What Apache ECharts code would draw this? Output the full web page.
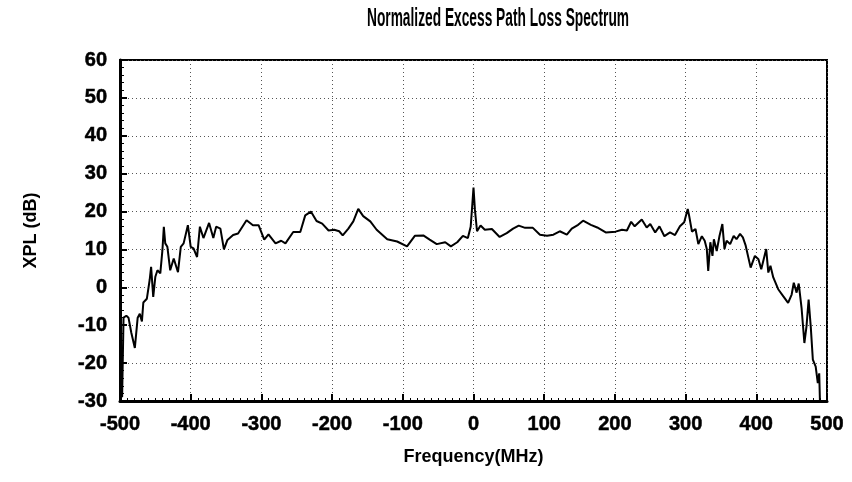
<!DOCTYPE html>
<html>
<head>
<meta charset="utf-8">
<title>Normalized Excess Path Loss Spectrum</title>
<script src="https://cdn.jsdelivr.net/npm/echarts@6/dist/echarts.min.js"></script>
<style>
  html, body { margin: 0; padding: 0; background: #fff; }
  #xplChart { width: 852px; height: 482px; }
</style>
</head>
<body>
<div id="xplChart"></div>
<script>
// values
var freq = [
  -497, -495, -491, -488, -484, -479, -475, -472, -469, -467, -462, -458, -456, -453, -450,
  -447, -443, -440, -438, -436, -433, -429, -424, -418, -414, -410, -404, -400, -396, -391,
  -387, -382, -374, -368, -364, -358, -353, -348, -340, -333, -321, -312, -304, -296, -290,
  -280, -272, -266, -255, -245, -238, -230, -222, -214, -205, -197, -190, -185, -177, -170,
  -163, -156, -146, -137, -122, -108, -94, -83, -71, -62, -52, -40, -32, -23, -15,
  -8, -4, -2, 0, 2, 5, 10, 16, 26, 37, 47, 56, 64, 73, 84,
  94, 104, 113, 122, 132, 139, 148, 155, 166, 175, 187, 201, 210, 217, 223,
  228, 238, 245, 250, 257, 263, 270, 278, 285, 292, 298, 303, 305, 309, 314,
  318, 323, 327, 330, 332, 335, 338, 340, 344, 348, 352, 355, 358, 363, 368,
  372, 377, 381, 385, 392, 398, 403, 407, 414, 417, 420, 424, 431, 438, 445,
  450, 453, 457, 460, 464, 468, 471, 474, 477, 480, 484, 487, 489, 490
]
var xpl = [
  -29, -8, -7.5, -8, -12, -16, -8, -7, -9, -4, -3, 2, 5.4, -2.5, 2.8,
  4.5, 3.7, 9.8, 16, 11.6, 10.7, 4.5, 7.6, 4, 10.7, 11.6, 16.4, 10.7, 10.3, 8,
  16, 13, 17, 13, 16, 15.5, 10, 12.5, 13.8, 14.2, 17.7, 16.4, 16.4, 12.6, 14,
  11.6, 12.3, 11.6, 14.6, 14.6, 19, 20, 17.5, 16.8, 15, 15.2, 14.8, 13.7, 15.5, 17.4,
  20.7, 18.8, 17.4, 15.2, 12.7, 12.1, 10.8, 13.6, 13.7, 12.6, 11.4, 11.9, 10.8, 11.9, 13.6,
  13, 16, 21, 26.3, 20.5, 14.8, 16.3, 15.2, 15.4, 13.3, 14.3, 15.5, 16.3, 15.7, 15.7,
  13.9, 13.6, 13.9, 14.8, 13.9, 15.5, 16.5, 17.6, 16.5, 15.8, 14.5, 14.7, 15.2, 15, 17.3,
  16.1, 17.9, 15.8, 16.7, 14.5, 16.1, 13.5, 14.5, 13.8, 16.1, 17.2, 20.7, 18.9, 14.7, 15.4,
  11.4, 13.5, 12.3, 10.1, 4.3, 11.9, 8.3, 12.7, 9.6, 13.6, 16.7, 10.1, 12.3, 11.4, 13.6,
  12.7, 14.1, 13.2, 11, 5.2, 8.3, 7.4, 4.8, 10.1, 3.9, 5.7, 2.6, -0.5, -2.3, -4.1,
  -1.9, 1.2, -1.4, 1, -5.4, -14.7, -10.3, -3.2, -10.3, -19.1, -20.9, -25.3, -22.7, -30
]

var labelFont = 'Liberation Sans, Arial, sans-serif'
// heavy tick labels like the scan
var tickLabel = {
  fontFamily: labelFont,
  fontSize: 20,
  fontWeight: 'bold',
  color: '#000',
  textBorderColor: '#000',
  textBorderWidth: 0.5
}

var xplChart = echarts.init(document.getElementById('xplChart'))

var option = {
  animation: false,
  // condensed title: no narrow font installed, so squeeze a bold one
  graphic: [
    {
      type: 'text',
      x: 498,
      y: 7,
      scaleX: 0.55,
      style: {
        text: 'Normalized Excess Path Loss Spectrum',
        font: 'bold 25px Liberation Sans, Arial, sans-serif',
        fill: '#000',
        align: 'center',
        verticalAlign: 'top'
      }
    }
  ],
  grid: {
    left: 120,
    right: 25,
    top: 60,
    bottom: 81,
    show: true,
    borderColor: '#000',
    borderWidth: 2
  },
  xAxis: {
    type: 'value',
    min: -500,
    max: 500,
    interval: 100,
    name: 'Frequency(MHz)',
    nameLocation: 'middle',
    nameGap: 47,
    nameTextStyle: { fontFamily: labelFont, fontSize: 18, fontWeight: 'bold', color: '#000' },
    axisLine: { onZero: false, lineStyle: { color: '#000', width: 3 } },
    axisTick: { inside: true, length: 7, lineStyle: { color: '#000', width: 2 } },
    minorTick: { show: true, splitNumber: 10, length: 3, lineStyle: { color: '#000', width: 1 } },
    axisLabel: Object.assign({ margin: 13 }, tickLabel),
    splitLine: { show: true, lineStyle: { color: '#555', type: [1, 3], width: 1 } }
  },
  yAxis: {
    type: 'value',
    min: -30,
    max: 60,
    interval: 10,
    name: 'XPL (dB)',
    nameLocation: 'middle',
    nameGap: 80,
    nameTextStyle: { fontFamily: labelFont, fontSize: 18, fontWeight: 'bold', color: '#000' },
    axisLine: { show: true, onZero: false, lineStyle: { color: '#000', width: 3 } },
    axisTick: { show: true, inside: true, length: 7, lineStyle: { color: '#000', width: 2 } },
    minorTick: { show: true, splitNumber: 5, length: 4, lineStyle: { color: '#000', width: 1 } },
    axisLabel: Object.assign({ margin: 13 }, tickLabel),
    splitLine: { show: true, lineStyle: { color: '#555', type: [1, 3], width: 1 } }
  },
  series: [
    {
      name: 'XPL',
      type: 'line',
      data: freq.map(function (f, i) { return [f, xpl[i]] }),
      showSymbol: false,
      lineStyle: { color: '#000', width: 2 }
    }
  ]
}
xplChart.setOption(option)
</script>
</body>
</html>
